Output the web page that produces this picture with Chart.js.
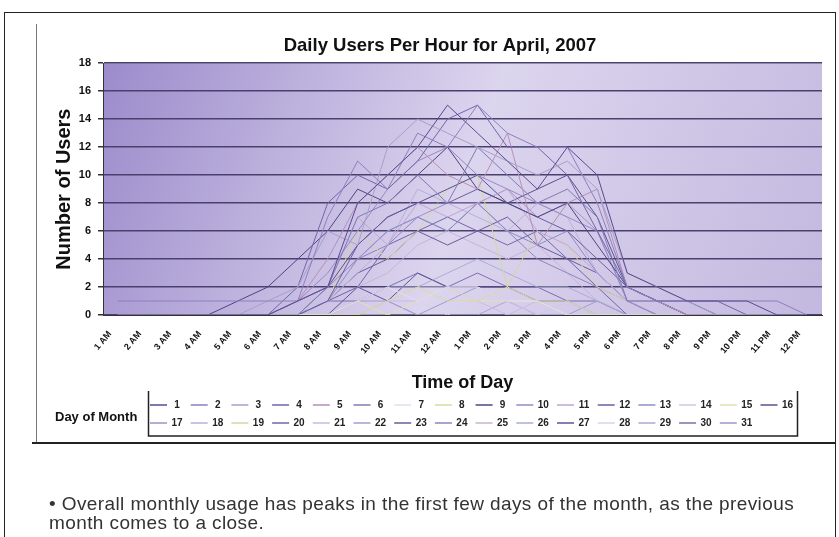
<!DOCTYPE html>
<html lang="en">
<head>
<meta charset="utf-8">
<title>Daily Users Per Hour for April, 2007</title>
<script src="https://cdn.jsdelivr.net/npm/chart.js@4.4.0/dist/chart.umd.min.js"></script>
<style>
    html, body { margin: 0; padding: 0; background: #ffffff; }
    #moldura { position: absolute; left: 4px; top: 12px; width: 830px; height: 530px; border: 1px solid #222; border-bottom: none; }
    #grafico { position: absolute; left: 0; top: 0; }
    #nota { position: absolute; left: 49px; top: 494px; font: 19px "Liberation Sans", Arial, sans-serif; letter-spacing: 0.4px; color: #333; line-height: 19px; white-space: nowrap; }
</style>
</head>
<body>
<div id="moldura"></div>
<canvas id="grafico" width="839" height="537"></canvas>
<div id="nota">• Overall monthly usage has peaks in the first few days of the month, as the previous<br>month comes to a close.</div>
<script>
// Horas do dia (eixo X)
const horas = ["1 AM", "2 AM", "3 AM", "4 AM", "5 AM", "6 AM", "7 AM", "8 AM", "9 AM", "10 AM", "11 AM", "12 AM",
    "1 PM", "2 PM", "3 PM", "4 PM", "5 PM", "6 PM", "7 PM", "8 PM", "9 PM", "10 PM", "11 PM", "12 PM"];

// Dias do mês (legenda)
const dias = ["1", "2", "3", "4", "5", "6", "7", "8", "9", "10", "11", "12", "13", "14", "15", "16",
    "17", "18", "19", "20", "21", "22", "23", "24", "25", "26", "27", "28", "29", "30", "31"];

// Usuários por hora, um array por dia
const dia01 = [0, 0, 0, 0, 0, 0, 1, 2, 8, 10, 12, 15, 13, 11, 9, 12, 10, 3, 2, 1, 1, 1, 0, 0];
const dia02 = [1, 1, 1, 1, 1, 1, 1, 7, 11, 9, 13, 12, 15, 13, 12, 12, 8, 2, 1, 1, 1, 1, 1, 0];
const dia03 = [0, 0, 0, 0, 0, 1, 2, 6, 5, 12, 14, 13, 12, 11, 10, 11, 9, 3, 2, 1, 0, 0, 0, 0];
const dia04 = [0, 0, 0, 0, 0, 0, 2, 8, 10, 9, 11, 14, 15, 12, 12, 10, 6, 2, 1, 1, 1, 0, 0, 0];
const dia05 = [0, 0, 0, 0, 0, 0, 1, 4, 8, 10, 12, 10, 9, 13, 5, 8, 9, 2, 1, 0, 0, 0, 0, 0];
const dia06 = [0, 0, 0, 0, 0, 0, 0, 2, 7, 8, 10, 8, 12, 10, 8, 9, 7, 1, 1, 0, 0, 0, 0, 0];
const dia07 = [0, 0, 0, 0, 0, 0, 0, 0, 1, 2, 1, 2, 2, 1, 1, 0, 0, 0, 0, 0, 0, 0, 0, 0];
const dia08 = [0, 0, 0, 0, 0, 0, 0, 0, 0, 1, 2, 1, 1, 2, 1, 1, 0, 0, 0, 0, 0, 0, 0, 0];
const dia09 = [0, 0, 0, 0, 1, 2, 4, 6, 9, 8, 10, 12, 9, 8, 7, 8, 5, 2, 1, 0, 0, 0, 0, 0];
const dia10 = [0, 0, 0, 0, 0, 0, 1, 3, 6, 9, 11, 12, 10, 9, 8, 7, 6, 1, 0, 0, 0, 0, 0, 0];
const dia11 = [0, 0, 0, 0, 0, 0, 1, 2, 7, 5, 8, 7, 8, 9, 6, 5, 3, 1, 0, 0, 0, 0, 0, 0];
const dia12 = [0, 0, 0, 0, 0, 0, 0, 1, 5, 7, 8, 8, 9, 8, 7, 6, 4, 2, 1, 1, 0, 0, 0, 0];
const dia13 = [0, 0, 0, 0, 0, 0, 0, 1, 4, 6, 7, 6, 8, 6, 5, 6, 3, 1, 0, 0, 0, 0, 0, 0];
const dia14 = [0, 0, 0, 0, 0, 0, 0, 0, 0, 1, 2, 2, 2, 1, 0, 1, 0, 0, 0, 0, 0, 0, 0, 0];
const dia15 = [0, 0, 0, 0, 0, 0, 0, 0, 1, 0, 1, 2, 1, 1, 1, 0, 0, 0, 0, 0, 0, 0, 0, 0];
const dia16 = [0, 0, 0, 0, 0, 0, 1, 2, 5, 7, 8, 9, 10, 8, 9, 10, 7, 2, 1, 0, 0, 0, 0, 0];
const dia17 = [0, 0, 0, 0, 0, 0, 1, 2, 4, 6, 7, 8, 8, 9, 7, 8, 6, 1, 1, 0, 0, 0, 0, 0];
const dia18 = [0, 0, 0, 0, 0, 0, 0, 1, 3, 5, 9, 8, 7, 6, 8, 7, 3, 1, 0, 0, 0, 0, 0, 0];
const dia19 = [0, 0, 0, 0, 0, 0, 0, 1, 6, 4, 6, 9, 10, 2, 6, 5, 2, 1, 0, 0, 0, 0, 0, 0];
const dia20 = [0, 0, 0, 0, 0, 0, 0, 1, 2, 5, 6, 7, 6, 5, 6, 4, 2, 0, 0, 0, 0, 0, 0, 0];
const dia21 = [0, 0, 0, 0, 0, 0, 0, 0, 0, 1, 1, 2, 1, 0, 1, 0, 0, 0, 0, 0, 0, 0, 0, 0];
const dia22 = [0, 0, 0, 0, 0, 0, 0, 0, 1, 1, 0, 1, 2, 1, 0, 0, 1, 0, 0, 0, 0, 0, 0, 0];
const dia23 = [0, 0, 0, 0, 0, 0, 0, 1, 3, 4, 6, 5, 6, 7, 5, 4, 3, 1, 0, 0, 0, 0, 0, 0];
const dia24 = [0, 0, 0, 0, 0, 0, 0, 2, 4, 5, 7, 6, 8, 6, 4, 3, 2, 1, 0, 0, 0, 0, 0, 0];
const dia25 = [0, 0, 0, 0, 0, 0, 0, 1, 2, 3, 5, 6, 5, 4, 5, 3, 1, 0, 0, 0, 0, 0, 0, 0];
const dia26 = [0, 0, 0, 0, 0, 0, 0, 0, 1, 2, 2, 3, 4, 3, 2, 2, 1, 0, 0, 0, 0, 0, 0, 0];
const dia27 = [0, 0, 0, 0, 0, 0, 0, 0, 2, 1, 3, 2, 2, 2, 1, 1, 0, 0, 0, 0, 0, 0, 0, 0];
const dia28 = [0, 0, 0, 0, 0, 0, 0, 0, 0, 0, 1, 0, 1, 0, 0, 0, 0, 0, 0, 0, 0, 0, 0, 0];
const dia29 = [0, 0, 0, 0, 0, 0, 0, 0, 0, 1, 0, 0, 0, 1, 0, 0, 0, 0, 0, 0, 0, 0, 0, 0];
const dia30 = [0, 0, 0, 0, 0, 0, 0, 1, 1, 2, 3, 2, 3, 2, 2, 1, 1, 0, 0, 0, 0, 0, 0, 0];
const dia31 = [0, 0, 0, 0, 0, 0, 0, 0, 0, 0, 0, 0, 0, 0, 0, 0, 0, 0, 0, 0, 0, 0, 0, 0];

const usuarios = [dia01, dia02, dia03, dia04, dia05, dia06, dia07, dia08, dia09, dia10, dia11, dia12, dia13, dia14, dia15, dia16,
    dia17, dia18, dia19, dia20, dia21, dia22, dia23, dia24, dia25, dia26, dia27, dia28, dia29, dia30, dia31];

// Ticks do eixo Y
const ticksY = [0, 2, 4, 6, 8, 10, 12, 14, 16, 18];

// Cores das linhas (tons de roxo, como no original)
const cores = ["#5b4a8f", "#8d7fbf", "#a7a0c8", "#6f67a8", "#b58fb8", "#7c7cb4", "#e2def2", "#d9dba0",
    "#4f4480", "#9a88c6", "#c1a6cf", "#6a5f9f", "#8890c6", "#d0c8e6", "#e0e2b0", "#5a5090",
    "#a38fc9", "#b8b0d8", "#d2d7a0", "#7466a6", "#c6bde2", "#9f9fcc", "#6c5a9c", "#8f84bd",
    "#c7b3d6", "#a8aed5", "#5e5694", "#d8d2ea", "#b1a4d2", "#7a6fb0", "#9e94c8"];

const fonte = '"Liberation Sans", Arial, sans-serif';

// Fundo em degradê da área do gráfico
const fundoPlot = {
    id: "fundoPlot",
    beforeDraw(chart) {
        const { ctx, chartArea: a } = chart;
        const g = ctx.createLinearGradient(a.left, a.top, a.right, a.bottom);
        g.addColorStop(0, "#9c8bcb");
        g.addColorStop(0.5, "#dcd5ee");
        g.addColorStop(1, "#c3b8df");
        ctx.save();
        ctx.fillStyle = g;
        ctx.fillRect(a.left, a.top, a.width, a.height);
        ctx.restore();
    }
};

// Moldura do gráfico e legenda "Day of Month" em duas linhas
const legendaDias = {
    id: "legendaDias",
    afterDraw(chart) {
        const ctx = chart.ctx;
        ctx.save();
        // Bordas da área do gráfico
        ctx.strokeStyle = "#777";
        ctx.lineWidth = 1;
        ctx.beginPath();
        ctx.moveTo(36.5, 24);
        ctx.lineTo(36.5, 442);
        ctx.stroke();
        ctx.strokeStyle = "#222";
        ctx.lineWidth = 2;
        ctx.beginPath();
        ctx.moveTo(32, 443);
        ctx.lineTo(835, 443);
        ctx.stroke();

        // Caixa da legenda
        ctx.lineWidth = 1.5;
        ctx.beginPath();
        ctx.moveTo(148.5, 391);
        ctx.lineTo(148.5, 436);
        ctx.lineTo(797.5, 436);
        ctx.lineTo(797.5, 391);
        ctx.stroke();

        ctx.fillStyle = "#111";
        ctx.font = "bold 13px " + fonte;
        ctx.textAlign = "left";
        ctx.textBaseline = "middle";
        ctx.fillText("Day of Month", 55, 417);

        ctx.font = "bold 10px " + fonte;
        ctx.textAlign = "center";
        chart.data.datasets.forEach((ds, i) => {
            const linha = Math.floor(i / 16);
            const col = i % 16;
            const x = 177 + col * 40.7;
            const y = 405 + linha * 18;
            ctx.strokeStyle = ds.borderColor;
            ctx.lineWidth = 1.5;
            ctx.beginPath();
            ctx.moveTo(x - 27, y);
            ctx.lineTo(x - 10, y);
            ctx.stroke();
            ctx.fillStyle = "#222";
            ctx.fillText(ds.label, x, y);
        });
        ctx.restore();
    }
};

new Chart(document.getElementById("grafico").getContext("2d"), {
    type: "line",
    data: {
        labels: horas,
        datasets: dias.map((d, i) => ({
            label: d,
            data: usuarios[i],
            borderColor: cores[i],
            backgroundColor: cores[i],
            borderWidth: 1,
            pointRadius: 0,
            tension: 0,
            fill: false
        }))
    },
    options: {
        responsive: false,
        animation: false,
        layout: { padding: { left: 58, right: 17, top: 0, bottom: 141 } },
        plugins: {
            legend: { display: false },
            tooltip: { enabled: false },
            title: {
                display: true,
                text: "Daily Users Per Hour for April, 2007",
                color: "#111",
                font: { family: fonte, size: 18.5, weight: "bold" },
                padding: { top: 35, bottom: 6 }
            }
        },
        scales: {
            x: {
                offset: true,
                grid: { display: false, drawTicks: false },
                border: { color: "#333", width: 1 },
                ticks: {
                    color: "#111",
                    font: { family: fonte, size: 9, weight: "bold" },
                    minRotation: 50,
                    maxRotation: 50,
                    autoSkip: false,
                    padding: 14,
                    labelOffset: -8
                },
                title: {
                    display: true,
                    text: "Time of Day",
                    color: "#111",
                    font: { family: fonte, size: 18, weight: "bold" },
                    padding: { top: 0, bottom: 2 }
                },
                afterFit: (s) => { s.height = 81; }
            },
            y: {
                min: 0,
                max: 18,
                afterBuildTicks: (s) => { s.ticks = ticksY.map((v) => ({ value: v })); },
                grid: { color: "#4a406e", lineWidth: 1.5, tickLength: 5, tickColor: "#333" },
                border: { color: "#333", width: 1 },
                ticks: {
                    color: "#111",
                    font: { family: fonte, size: 11, weight: "bold" },
                    padding: 7
                },
                title: {
                    display: true,
                    text: "Number of Users",
                    color: "#111",
                    font: { family: fonte, size: 20, weight: "bold" },
                    padding: { top: -6, bottom: 0 }
                },
                afterFit: (s) => { s.width = 45; }
            }
        }
    },
    plugins: [fundoPlot, legendaDias]
});
</script>
</body>
</html>
